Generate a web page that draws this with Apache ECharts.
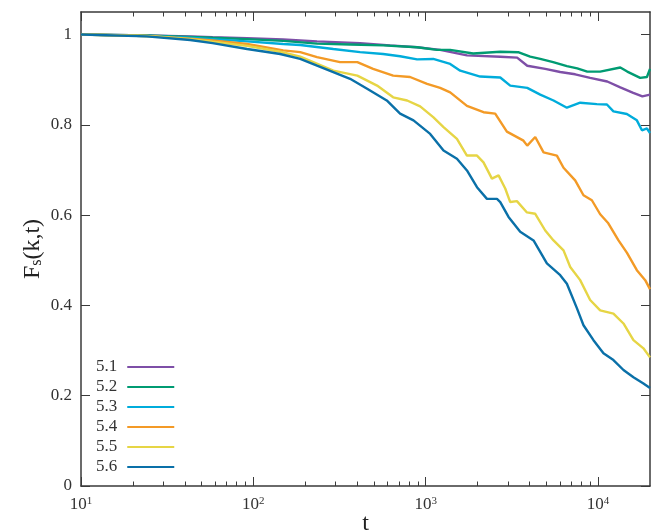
<!DOCTYPE html>
<html>
<head>
<meta charset="utf-8">
<script src="https://cdn.jsdelivr.net/npm/echarts@6/dist/echarts.min.js"></script>
<style>html,body{margin:0;padding:0;background:#fff;}#c{width:659px;height:532px;}</style>
</head>
<body>
<div id="c"></div>
<script>
// ---- data ----
var seriesNames = ['5.1', '5.2', '5.3', '5.4', '5.5', '5.6'];

var t51 = [10, 24, 43, 58, 92, 149, 234, 416, 621, 891, 1212, 1734, 2706, 3390, 3880, 4935, 6028, 7360, 8990, 11300, 13450, 15990, 18060, 20000];
var f51 = [1.0, 0.998, 0.996, 0.994, 0.992, 0.989, 0.985, 0.981, 0.976, 0.972, 0.966, 0.954, 0.951, 0.949, 0.931, 0.924, 0.917, 0.912, 0.904, 0.896, 0.883, 0.871, 0.863, 0.867];

var t52 = [10, 24, 43, 58, 92, 149, 234, 364, 566, 891, 1164, 1386, 1884, 2706, 3436, 4035, 4616, 5486, 6590, 7570, 8650, 10280, 13450, 14760, 17540, 19200, 20000];
var f52 = [1.0, 0.998, 0.995, 0.993, 0.990, 0.986, 0.980, 0.978, 0.976, 0.972, 0.966, 0.966, 0.958, 0.962, 0.961, 0.951, 0.946, 0.939, 0.930, 0.925, 0.918, 0.918, 0.927, 0.918, 0.904, 0.906, 0.924];

var t53 = [10, 24, 43, 58, 92, 149, 187, 291, 416, 566, 710, 891, 1105, 1386, 1585, 2070, 2706, 3091, 3880, 4616, 5512, 6590, 7870, 9840, 11250, 12270, 14680, 16780, 17960, 19200, 20000];
var f53 = [1.0, 0.997, 0.993, 0.990, 0.985, 0.979, 0.977, 0.968, 0.961, 0.957, 0.952, 0.945, 0.946, 0.935, 0.920, 0.907, 0.905, 0.887, 0.882, 0.867, 0.854, 0.838, 0.849, 0.846, 0.845, 0.830, 0.824, 0.810, 0.788, 0.792, 0.782];

var t54 = [10, 24, 43, 58, 92, 149, 187, 234, 318, 401, 495, 647, 811, 1018, 1212, 1386, 1734, 2163, 2529, 2956, 3690, 3880, 4318, 4825, 5765, 6300, 7360, 8225, 9200, 10280, 11460, 13130, 14680, 16780, 18760, 20000];
var f54 = [1.0, 0.997, 0.991, 0.987, 0.979, 0.965, 0.961, 0.950, 0.939, 0.939, 0.924, 0.909, 0.906, 0.891, 0.882, 0.872, 0.842, 0.828, 0.825, 0.785, 0.765, 0.754, 0.773, 0.739, 0.732, 0.705, 0.677, 0.644, 0.633, 0.602, 0.582, 0.544, 0.517, 0.478, 0.456, 0.436];

var t55 = [10, 24, 43, 58, 92, 143, 187, 291, 401, 522, 647, 780, 928, 1105, 1268, 1517, 1734, 1983, 2163, 2420, 2645, 2892, 3091, 3380, 3866, 4318, 4935, 5512, 6300, 6890, 7870, 8990, 10280, 12270, 14030, 16030, 18320, 20000];
var f55 = [1.0, 0.997, 0.990, 0.984, 0.975, 0.962, 0.951, 0.920, 0.909, 0.887, 0.861, 0.854, 0.841, 0.817, 0.795, 0.769, 0.732, 0.732, 0.717, 0.681, 0.688, 0.659, 0.629, 0.631, 0.606, 0.603, 0.566, 0.544, 0.522, 0.485, 0.456, 0.412, 0.389, 0.382, 0.360, 0.323, 0.305, 0.285];

var t56 = [10, 24, 43, 58, 92, 143, 187, 234, 364, 457, 594, 710, 849, 1061, 1268, 1517, 1734, 1983, 2265, 2590, 2706, 3022, 3532, 4220, 5045, 6028, 6590, 7530, 8225, 9400, 10740, 12270, 14030, 16030, 18320, 20000];
var f56 = [1.0, 0.996, 0.988, 0.981, 0.968, 0.957, 0.946, 0.931, 0.902, 0.880, 0.854, 0.825, 0.810, 0.780, 0.743, 0.725, 0.699, 0.662, 0.636, 0.636, 0.629, 0.596, 0.563, 0.544, 0.493, 0.467, 0.448, 0.394, 0.356, 0.323, 0.294, 0.279, 0.257, 0.241, 0.227, 0.217];

var xMajorTicks = [10, 100, 1000, 10000];
var xTickExponents = ['1', '2', '3', '4'];
var xMinorTicks = [20, 30, 40, 50, 60, 70, 80, 90, 200, 300, 400, 500, 600, 700, 800, 900, 2000, 3000, 4000, 5000, 6000, 7000, 8000, 9000];
var yTicks = [0, 0.2, 0.4, 0.6, 0.8, 1];
var yTickLabels = ['0', '0.2', '0.4', '0.6', '0.8', '1'];

// ---- chart ----
var colors = ['#7e4fa7', '#009b72', '#00acdb', '#f39a26', '#e6d545', '#0a70a8'];
var FONT = 'Liberation Serif';
var frameColor = '#3a3a3a';
var tData = [t51, t52, t53, t54, t55, t56];
var fData = [f51, f52, f53, f54, f55, f56];

function xAxisDef(pos, major, labels) {
  return {
    type: 'log', logBase: 10, min: 10, max: 20000, position: pos,
    axisLine: { show: major, onZero: false, lineStyle: { color: frameColor, width: 1.5 } },
    axisTick: { show: true, inside: true, length: major ? 9 : 4.5,
      customValues: major ? xMajorTicks : xMinorTicks,
      lineStyle: { color: frameColor, width: 1 } },
    axisLabel: labels ? {
      show: true, customValues: xMajorTicks, margin: 10,
      fontFamily: FONT, fontSize: 17, color: '#333',
      formatter: function (v) {
        var i = xMajorTicks.indexOf(v);
        return '{b|10}{sup|' + (i >= 0 ? xTickExponents[i] : '') + '}';
      },
      rich: {
        b: { fontFamily: FONT, fontSize: 17, color: '#333', lineHeight: 17, verticalAlign: 'bottom' },
        sup: { fontFamily: FONT, fontSize: 11, color: '#333', lineHeight: 11, verticalAlign: 'top', padding: [0, 0, 3, 0] }
      }
    } : { show: false },
    splitLine: { show: false },
    name: labels ? 't' : '', nameLocation: 'middle', nameGap: 26, nameMoveOverlap: false,
    nameTextStyle: { fontFamily: FONT, fontSize: 24, color: '#222' }
  };
}

function yAxisDef(pos, labels) {
  return {
    type: 'value', min: 0, max: 1.05, position: pos,
    axisLine: { show: true, onZero: false, lineStyle: { color: frameColor, width: 1.5 } },
    axisTick: { show: true, inside: true, length: 9, customValues: yTicks,
      lineStyle: { color: frameColor, width: 1 } },
    axisLabel: labels ? {
      show: true, customValues: yTicks, margin: 9,
      fontFamily: FONT, fontSize: 17, color: '#333',
      formatter: function (v) {
        var i = -1;
        for (var k = 0; k < yTicks.length; k++) if (Math.abs(yTicks[k] - v) < 1e-9) i = k;
        return i >= 0 ? yTickLabels[i] : '';
      }
    } : { show: false },
    splitLine: { show: false },
    name: labels ? '{m|F}{sub|s}{m|(k,t)}' : '', nameLocation: 'middle', nameGap: 36, nameRotate: 90,
    nameMoveOverlap: false,
    nameTextStyle: {
      fontFamily: FONT, fontSize: 24, color: '#222',
      rich: {
        m: { fontFamily: FONT, fontSize: 24, color: '#222', lineHeight: 24, verticalAlign: 'top' },
        sub: { fontFamily: FONT, fontSize: 16, color: '#222', lineHeight: 16, verticalAlign: 'bottom', padding: [12, 0, 0, 0] }
      }
    }
  };
}

var series = seriesNames.map(function (name, i) {
  return {
    name: name, type: 'line', xAxisIndex: 0, yAxisIndex: 0,
    symbol: 'none', showSymbol: false, smooth: false, clip: true,
    lineStyle: { color: colors[i], width: 2.4 },
    itemStyle: { color: colors[i] },
    data: tData[i].map(function (t, j) { return [t, fData[i][j]]; }),
    z: 2 + i
  };
});

var chart = echarts.init(document.getElementById('c'), null, { renderer: 'canvas' });
chart.setOption({
  animation: false,
  backgroundColor: '#fff',
  color: colors,
  grid: { left: 81, right: 9, top: 12, bottom: 46, containLabel: false, outerBoundsMode: 'none' },
  xAxis: [
    xAxisDef('bottom', true, true),
    xAxisDef('bottom', false, false),
    xAxisDef('top', true, false),
    xAxisDef('top', false, false)
  ],
  yAxis: [yAxisDef('left', true), yAxisDef('right', false)],
  legend: {
    data: seriesNames, orient: 'vertical', left: 91, top: 352,
    align: 'right', icon: 'rect', itemWidth: 47, itemHeight: 2.2, itemGap: 0,
    textStyle: { fontFamily: FONT, fontSize: 17, color: '#333', lineHeight: 20, padding: [0, 5, 0, 0] }
  },
  series: series
});
</script>
</body>
</html>
